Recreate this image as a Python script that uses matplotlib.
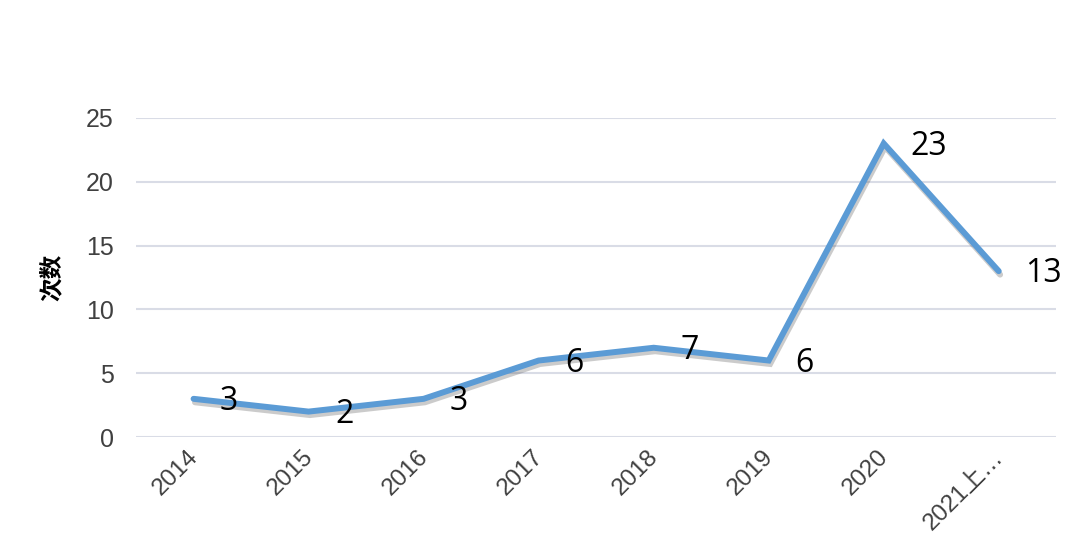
import matplotlib.pyplot as plt
import matplotlib.patheffects as pe
import matplotlib.transforms as mtransforms

plt.rcParams['font.family'] = ['Liberation Sans', 'Noto Sans CJK SC', 'DejaVu Sans']

# data
years = ['2014', '2015', '2016', '2017', '2018', '2019', '2020', '2021上…']
counts = [3, 2, 3, 6, 7, 6, 23, 13]

fig = plt.figure(figsize=(10.8, 5.41), dpi=100)
ax = fig.add_axes([0.126, 0.192, 0.852, 0.59])

x = list(range(len(years)))
ax.plot(x, counts, color='#5B9BD5', linewidth=4.3, solid_capstyle='round',
        solid_joinstyle='miter', zorder=3,
        path_effects=[pe.SimpleLineShadow(offset=(1, -2.5), alpha=0.3, shadow_color='#555555'),
                      pe.Normal()])

for xi, v in zip(x, counts):
    ax.annotate(str(v), (xi, v), xytext=(19, -2), textcoords='offset points',
                ha='left', va='center', fontsize=23, color='black',
                family=['Open Sans', 'DejaVu Sans'])

ax.set_xlim(-0.5, len(years) - 0.5)
ax.set_ylim(0, 25)
ax.set_yticks([0, 5, 10, 15, 20, 25])
ax.yaxis.grid(True, color='#D9DCE6', linewidth=1.5)
ax.set_axisbelow(True)
for s in ax.spines.values():
    s.set_visible(False)
ax.tick_params(length=0)
ax.tick_params(axis='y', labelsize=18, labelcolor='#404040', pad=16)

ax.set_xticks(x)
ax.set_xticklabels(years, rotation=45, ha='right', rotation_mode='anchor',
                   fontsize=17.5, color='#404040')
ax.tick_params(axis='x', pad=6)
shift = mtransforms.ScaledTranslation(-0.07, 0, fig.dpi_scale_trans)
for lbl in ax.get_xticklabels():
    lbl.set_transform(lbl.get_transform() + shift)

ax.set_ylabel('次数', fontsize=17, fontweight='bold', family=['Noto Sans CJK SC'],
              labelpad=16)

fig.savefig('out.png', dpi=100)
